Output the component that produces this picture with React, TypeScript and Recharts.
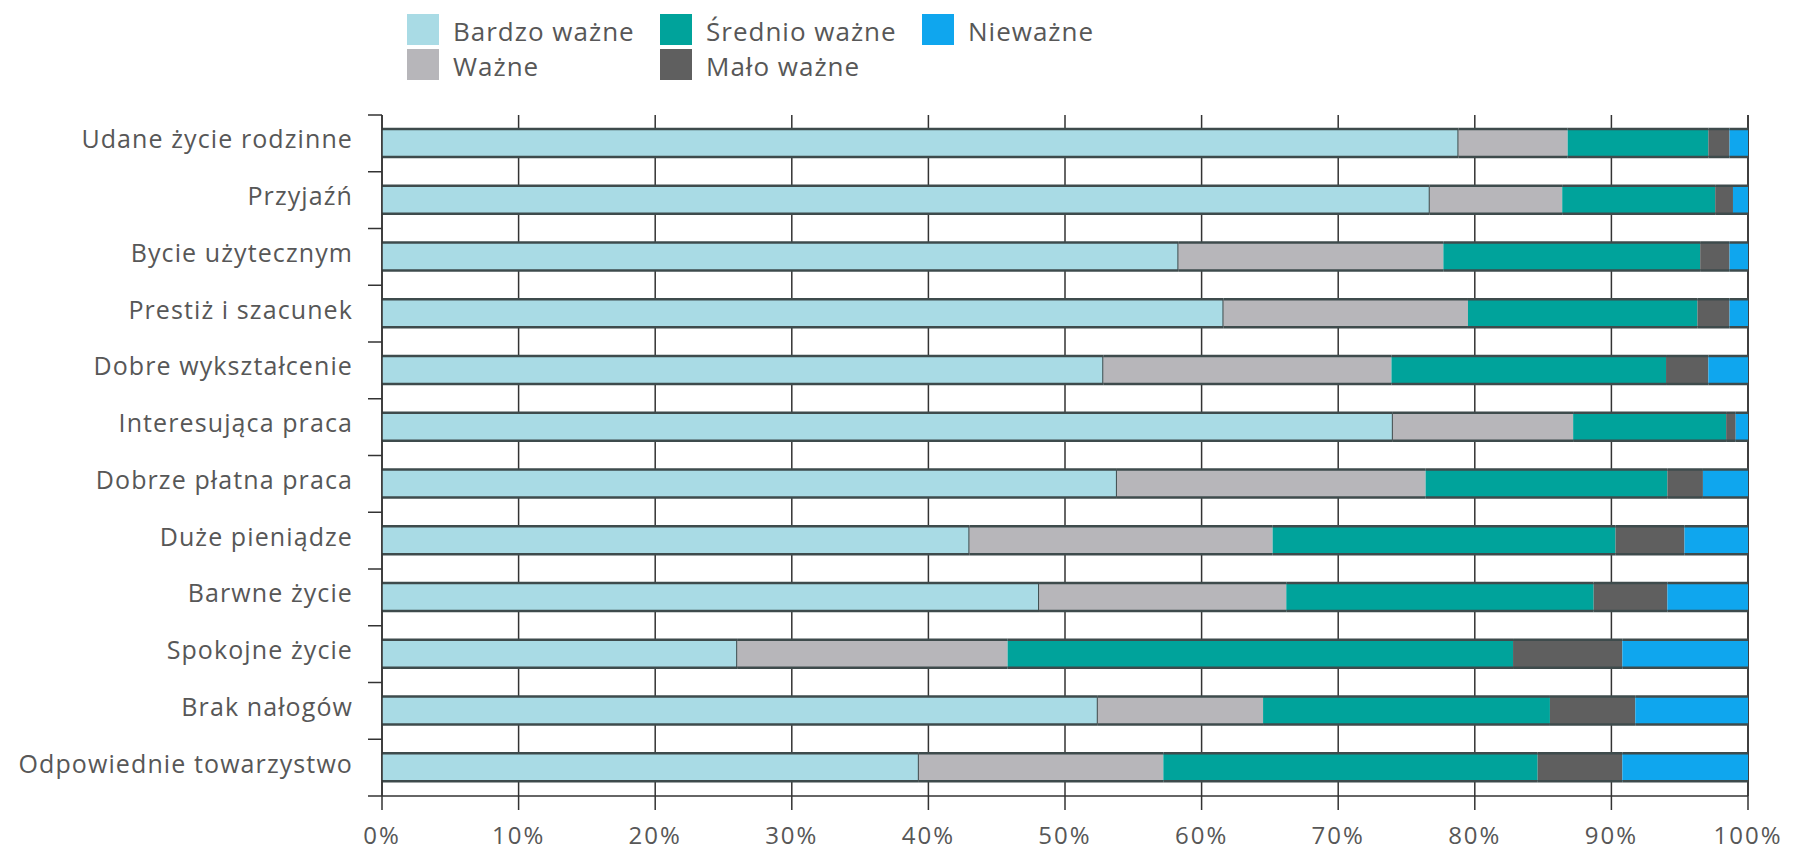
import React from 'react';
import { BarChart, Bar, XAxis, YAxis, CartesianGrid, Legend } from 'recharts';

const categories = [
  'Udane życie rodzinne',
  'Przyjaźń',
  'Bycie użytecznym',
  'Prestiż i szacunek',
  'Dobre wykształcenie',
  'Interesująca praca',
  'Dobrze płatna praca',
  'Duże pieniądze',
  'Barwne życie',
  'Spokojne życie',
  'Brak nałogów',
  'Odpowiednie towarzystwo',
];
const bardzoWazne = [78.8, 76.7, 58.3, 61.6, 52.8, 74.0, 53.8, 43.0, 48.1, 26.0, 52.4, 39.3];
const wazne = [8.0, 9.7, 19.4, 17.9, 21.1, 13.2, 22.6, 22.2, 18.1, 19.8, 12.1, 17.9];
const srednioWazne = [10.3, 11.2, 18.8, 16.8, 20.1, 11.2, 17.7, 25.1, 22.5, 37.0, 21.0, 27.4];
const maloWazne = [1.55, 1.3, 2.15, 2.35, 3.1, 0.7, 2.6, 5.05, 5.4, 8.0, 6.25, 6.2];
const niewazne = [1.35, 1.1, 1.35, 1.35, 2.9, 0.9, 3.3, 4.65, 5.9, 9.2, 8.25, 9.2];
const xTicks = [0, 10, 20, 30, 40, 50, 60, 70, 80, 90, 100];

const seriesKeys = ['bardzo', 'wazne', 'srednio', 'malo', 'niewazne'];
const seriesNames = ['Bardzo ważne', 'Ważne', 'Średnio ważne', 'Mało ważne', 'Nieważne'];
const seriesColors = ['#a9dbe5', '#b7b6ba', '#00a39b', '#5f5f5f', '#0fa6ee'];

const data = categories.map((name, i) => ({
  name,
  bardzo: bardzoWazne[i],
  wazne: wazne[i],
  srednio: srednioWazne[i],
  malo: maloWazne[i],
  niewazne: niewazne[i],
}));

const W = 1806;
const H = 852;
const MARGIN = { top: 115, right: 58, bottom: 6, left: 11 };
const Y_WIDTH = 371;
const X_HEIGHT = 50;
const PLOT_TOP = MARGIN.top;
const PLOT_BOTTOM = H - MARGIN.bottom - X_HEIGHT;
const BAND = (PLOT_BOTTOM - PLOT_TOP) / categories.length;
const FONT = "'Open Sans', 'DejaVu Sans', sans-serif";
const LABEL_SIZE = 25;
const LEGEND_SIZE = 26;
const TICK_SIZE = 24;
const TEXT = '#575757';
const AXIS = '#333333';
const OUTLINE = '#3e4b4c';
const Y_TICK_MARGIN = 29;

function YTick(props: any) {
  const { x, y, payload, index } = props;
  const axisX = x + Y_TICK_MARGIN;
  return (
    <g>
      <text
        x={x}
        y={y}
        dy="0.2em"
        textAnchor="end"
        fill={TEXT}
        fontSize={LABEL_SIZE}
        fontFamily={FONT}
        letterSpacing={1.1}
      >
        {payload.value}
      </text>
      <line x1={axisX - 14} x2={axisX} y1={y - BAND / 2} y2={y - BAND / 2} stroke={AXIS} strokeWidth={1.5} />
      {index === categories.length - 1 && (
        <line x1={axisX - 14} x2={axisX} y1={y + BAND / 2} y2={y + BAND / 2} stroke={AXIS} strokeWidth={1.5} />
      )}
    </g>
  );
}

const makeShape = (color: string, edge: boolean) => (props: any) => {
  const { x, y, width, height } = props;
  if (!width || width <= 0) return <g />;
  return (
    <g>
      <rect x={x} y={y} width={width} height={height} fill={color} />
      <line x1={x} x2={x + width} y1={y} y2={y} stroke={OUTLINE} strokeWidth={2.5} />
      <line x1={x} x2={x + width} y1={y + height} y2={y + height} stroke={OUTLINE} strokeWidth={2.5} />
      {edge && <line x1={x + width} x2={x + width} y1={y} y2={y + height} stroke={OUTLINE} strokeWidth={2} />}
    </g>
  );
};

function LegendGrid() {
  return (
    <div
      style={{
        display: 'grid',
        gridTemplateColumns: '253px 262px auto',
        gridTemplateRows: '35px 35px',
        gridAutoFlow: 'column',
        fontFamily: FONT,
        fontSize: LEGEND_SIZE,
        letterSpacing: 1,
        color: TEXT,
      }}
    >
      {seriesNames.map((n, i) => (
        <div key={n} style={{ display: 'flex', alignItems: 'flex-start' }}>
          <div style={{ width: 32, height: 31, background: seriesColors[i], flex: 'none' }} />
          <span style={{ marginLeft: 14, marginTop: 2, lineHeight: '31px', whiteSpace: 'nowrap' }}>{n}</span>
        </div>
      ))}
    </div>
  );
}

export default function App() {
  return (
    <div style={{ position: 'absolute', left: 0, top: 0, width: W, height: H, background: '#fff' }}>
      <BarChart width={W} height={H} data={data} layout="vertical" margin={MARGIN} barSize={28}>
        <CartesianGrid horizontal={false} vertical={true} stroke={AXIS} strokeWidth={1.5} />
        <XAxis
          type="number"
          domain={[0, 100]}
          ticks={xTicks}
          tickFormatter={(v: number) => `${v}%`}
          height={X_HEIGHT}
          tickSize={14}
          tickMargin={17}
          stroke={AXIS}
          axisLine={{ stroke: AXIS, strokeWidth: 1.5 }}
          tickLine={{ stroke: AXIS, strokeWidth: 1.5 }}
          tick={{ fill: TEXT, fontSize: TICK_SIZE, fontFamily: FONT, letterSpacing: 2 }}
          interval={0}
        />
        <YAxis
          type="category"
          dataKey="name"
          width={Y_WIDTH}
          tickLine={false}
          tickSize={0}
          tickMargin={Y_TICK_MARGIN}
          axisLine={{ stroke: AXIS, strokeWidth: 1.5 }}
          tick={<YTick />}
          interval={0}
        />
        <Legend
          layout="vertical"
          align="center"
          verticalAlign="middle"
          wrapperStyle={{ top: 14, left: 407, width: 800, height: 72 }}
          content={() => <LegendGrid />}
        />
        {seriesKeys.map((k, i) => (
          <Bar
            key={k}
            dataKey={k}
            name={seriesNames[i]}
            stackId="a"
            fill={seriesColors[i]}
            isAnimationActive={false}
            shape={makeShape(seriesColors[i], i === 0)}
          />
        ))}
      </BarChart>
    </div>
  );
}
